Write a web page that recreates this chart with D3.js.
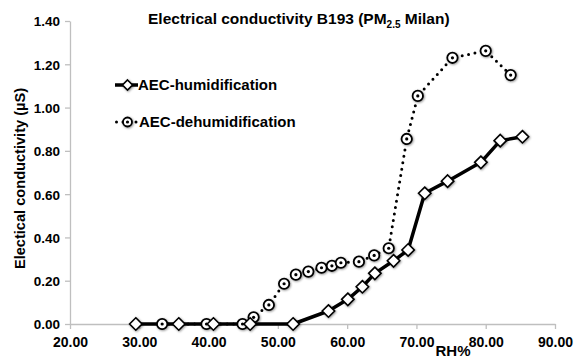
<!DOCTYPE html>
<html>
<head>
<meta charset="utf-8">
<script src="https://cdn.jsdelivr.net/npm/d3@7"></script>
<style>
  body { margin: 0; background: #fff; }
  text { font-family: "Liberation Sans", Arial, sans-serif; font-weight: bold; fill: #000; }
</style>
</head>
<body>
<div id="container"></div>
<script>
// humidification series (diamonds, solid line)
const humRH = [29.5, 35.7, 40.7, 46.0, 52.2, 57.3, 60.1, 62.2, 64.0, 66.7, 68.8, 71.2, 74.5, 79.3, 82.1, 85.3];
const humEC = [0, 0, 0, 0, 0, 0.06, 0.114, 0.172, 0.234, 0.292, 0.342, 0.604, 0.66, 0.747, 0.847, 0.865];

// dehumidification series (circles, dotted line)
const dehRH = [33.3, 39.7, 44.9, 46.5, 48.7, 50.9, 52.6, 54.4, 56.3, 57.8, 59.1, 61.7, 63.9, 66.0, 68.6, 70.2, 75.2, 80.0, 83.6];
const dehEC = [0, 0, 0, 0.031, 0.088, 0.186, 0.228, 0.242, 0.26, 0.269, 0.283, 0.288, 0.317, 0.35, 0.855, 1.054, 1.23, 1.262, 1.15];

const xTicks = [20, 30, 40, 50, 60, 70, 80, 90];
const yTicks = [0, 0.2, 0.4, 0.6, 0.8, 1.0, 1.2, 1.4];

const W = 574, H = 358;
const margin = { top: 21, right: 19, bottom: 34, left: 70 };

const svg = d3.select("#container").append("svg")
  .attr("width", W).attr("height", H);

const x = d3.scaleLinear().domain([20, 90]).range([margin.left, W - margin.right]);
const y = d3.scaleLinear().domain([0, 1.4]).range([H - margin.bottom, margin.top]);

// soft shadow for the markers
const defs = svg.append("defs");
const f = defs.append("filter").attr("id", "shadow").attr("x", "-50%").attr("y", "-50%").attr("width", "200%").attr("height", "200%");
f.append("feDropShadow").attr("dx", 0.8).attr("dy", 0.8).attr("stdDeviation", 0.9).attr("flood-color", "#000").attr("flood-opacity", 0.45);

// axes
const axisColor = "#bfbfbf";
const xAxis = svg.append("g")
  .attr("transform", `translate(0,${y(0)})`)
  .call(d3.axisBottom(x).tickValues(xTicks).tickFormat(d3.format(".2f")).tickSize(5).tickSizeOuter(0));
const yAxis = svg.append("g")
  .attr("transform", `translate(${x(20)},0)`)
  .call(d3.axisLeft(y).tickValues(yTicks).tickFormat(d3.format(".2f")).tickSize(5).tickSizeOuter(0));
[xAxis, yAxis].forEach(a => {
  a.selectAll("path, line").attr("stroke", axisColor).attr("stroke-width", 1.3);
  a.selectAll("text").style("font-weight", "bold")
    .style("font-family", "'Liberation Sans', Arial, sans-serif").attr("fill", "#000");
});
xAxis.selectAll("text").style("font-size", "14px").attr("y", 22.5).attr("dy", 0);
yAxis.selectAll("text").style("font-size", "13.5px").attr("x", -10).attr("dy", "0.36em");

const humData = humRH.map((r, i) => ({ rh: r, ec: humEC[i] }));
const dehData = dehRH.map((r, i) => ({ rh: r, ec: dehEC[i] }));
const line = d3.line().x(d => x(d.rh)).y(d => y(d.ec));

// dotted dehumidification line
svg.append("path").datum(dehData)
  .attr("d", line).attr("fill", "none").attr("stroke", "#000")
  .attr("stroke-width", 3).attr("stroke-linecap", "round")
  .attr("stroke-dasharray", "0 6.5");

// solid humidification line
svg.append("path").datum(humData)
  .attr("d", line).attr("fill", "none").attr("stroke", "#000")
  .attr("stroke-width", 3.5).attr("stroke-linejoin", "round");

function circleMarker(g, cx, cy, r) {
  g.append("circle").attr("cx", cx).attr("cy", cy).attr("r", r)
    .attr("fill", "#fff").attr("stroke", "#000").attr("stroke-width", 1.8)
    .attr("filter", "url(#shadow)");
  g.append("circle").attr("cx", cx).attr("cy", cy).attr("r", 1.6).attr("fill", "#000");
}
function diamondMarker(g, cx, cy, s) {
  g.append("path")
    .attr("d", `M${cx},${cy - s}L${cx + s},${cy}L${cx},${cy + s}L${cx - s},${cy}Z`)
    .attr("fill", "#fff").attr("stroke", "#000").attr("stroke-width", 1.6)
    .attr("filter", "url(#shadow)");
}

const markers = svg.append("g");
dehData.forEach(d => circleMarker(markers, x(d.rh), y(d.ec), 5.2));
humData.forEach(d => diamondMarker(markers, x(d.rh), y(d.ec), 6.2));

// legend
const lg = svg.append("g");
lg.append("line").attr("x1", 115).attr("x2", 138).attr("y1", 85).attr("y2", 85)
  .attr("stroke", "#000").attr("stroke-width", 3.5);
diamondMarker(lg, 127.5, 85, 5);
lg.append("text").attr("x", 138).attr("y", 85).attr("dy", "0.36em")
  .style("font-size", "15px").text("AEC-humidification");

lg.append("line").attr("x1", 116.5).attr("x2", 138).attr("y1", 122).attr("y2", 122)
  .attr("stroke", "#000").attr("stroke-width", 3).attr("stroke-linecap", "round")
  .attr("stroke-dasharray", "0 6.5");
circleMarker(lg, 127.5, 122, 4.5);
lg.append("text").attr("x", 139).attr("y", 122).attr("dy", "0.36em")
  .style("font-size", "15px").text("AEC-dehumidification");

// title
const title = svg.append("text").attr("x", 148).attr("y", 24)
  .style("font-size", "15.5px");
title.append("tspan").text("Electrical conductivity B193 (PM");
title.append("tspan").attr("dy", 4).style("font-size", "10px").text("2.5");
title.append("tspan").attr("dy", -4).text(" Milan)");

// axis titles
svg.append("text")
  .attr("transform", "translate(25,178.5) rotate(-90)")
  .attr("text-anchor", "middle").style("font-size", "14.6px")
  .text("Electical conductivity (µS)");

svg.append("text").attr("x", 453).attr("y", 356)
  .attr("text-anchor", "middle").style("font-size", "15px").text("RH%");
</script>
</body>
</html>
